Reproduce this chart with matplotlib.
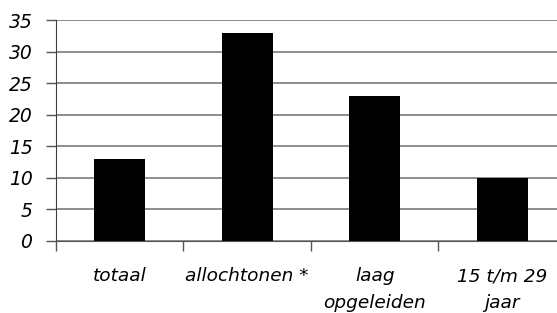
import matplotlib.pyplot as plt
import numpy as np

categories = ["totaal", "allochtonen *", "laag\nopgeleiden", "15 t/m 29\njaar"]
values = [13, 33, 23, 10]
yticks = [0, 5, 10, 15, 20, 25, 30, 35]

plt.rcParams["font.family"] = "DejaVu Sans"

fig = plt.figure(figsize=(5.57, 3.13), dpi=100)
ax = fig.add_axes([56 / 557, 1 - 241 / 313, 510 / 557, 221 / 313])

x = np.arange(len(categories))
ax.bar(x, values, width=0.4, color="black", zorder=3)

ax.set_xlim(-0.5, len(categories) - 0.5)
ax.set_ylim(0, 35)
ax.set_yticks(yticks)
ax.set_yticklabels([str(v) for v in yticks], fontsize=13.5, style="italic")
ax.yaxis.grid(True, color="#7a7a7a", linewidth=1.2, zorder=0)

ax.set_xticks(x)
ax.set_xticklabels(categories, fontsize=13.3, style="italic", linespacing=1.6)
ax.tick_params(axis="x", which="major", length=0, pad=19)
ax.set_xticks(np.arange(len(categories)) - 0.5, minor=True)
ax.tick_params(axis="x", which="minor", length=7, color="#555555", width=1)
ax.tick_params(axis="y", length=7, color="#555555", width=1, pad=10)

for side in ["top", "right"]:
    ax.spines[side].set_visible(False)
ax.spines["left"].set_color("#404040")
ax.spines["bottom"].set_color("#555555")

fig.savefig("out.png", dpi=100)
